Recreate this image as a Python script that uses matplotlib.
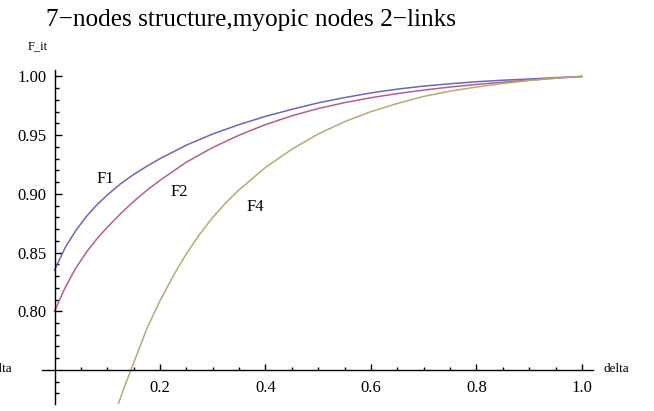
import matplotlib
matplotlib.use("Agg")
import matplotlib.pyplot as plt

# ---- data ----
delta_12 = [0.0, 0.02, 0.04, 0.06, 0.08, 0.1, 0.125, 0.15, 0.175, 0.2, 0.25, 0.3, 0.35,
            0.4, 0.45, 0.5, 0.55, 0.6, 0.65, 0.7, 0.75, 0.8, 0.85, 0.9, 0.95, 1.0]
F1 = [0.835, 0.854, 0.8685, 0.8805, 0.8905, 0.899, 0.9085, 0.9165, 0.9235, 0.930, 0.9415,
      0.951, 0.959, 0.966, 0.972, 0.9775, 0.982, 0.986, 0.9892, 0.9918, 0.9938, 0.9955,
      0.9968, 0.9978, 0.9990, 1.0]
F2 = [0.800, 0.820, 0.8365, 0.850, 0.8615, 0.8715, 0.883, 0.8935, 0.903, 0.9115, 0.927,
      0.9395, 0.950, 0.959, 0.9665, 0.9727, 0.9777, 0.9819, 0.9854, 0.9884, 0.991, 0.9932,
      0.9951, 0.9969, 0.9985, 1.0]
delta_4 = [0.12, 0.135, 0.15, 0.175, 0.2, 0.225, 0.25, 0.275, 0.3, 0.325, 0.35, 0.4, 0.45,
           0.5, 0.55, 0.6, 0.65, 0.7, 0.75, 0.8, 0.85, 0.9, 0.95, 1.0]
F4 = [0.720, 0.7385, 0.756, 0.785, 0.809, 0.830, 0.849, 0.8655, 0.880, 0.8925, 0.9035,
      0.9225, 0.938, 0.951, 0.9615, 0.970, 0.977, 0.983, 0.9875, 0.991, 0.994, 0.9965,
      0.9985, 1.0]

x_major = [0.2, 0.4, 0.6, 0.8, 1.0]
x_labels = ["0.2", "0.4", "0.6", "0.8", "1.0"]
y_major = [0.80, 0.85, 0.90, 0.95, 1.00]
y_labels = ["0.80", "0.85", "0.90", "0.95", "1.00"]
curve_labels = ["F1", "F2", "F4"]
title = "7\u2212nodes structure,myopic nodes 2\u2212links"

plt.rcParams['font.family'] = ['Liberation Serif', 'DejaVu Serif']

W, H = 654, 411
fig = plt.figure(figsize=(W / 100, H / 100), dpi=100)
ax = fig.add_axes([42 / W, (H - 404) / H, (593 - 42) / W, (404 - 70) / H])

xmin, xmax = -0.0237, 1.0209
ymin, ymax = 0.721, 1.0055
ax.set_xlim(xmin, xmax)
ax.set_ylim(ymin, ymax)

c1 = "#6868bc"
c2 = "#b85e8e"
c4 = "#b6ac72"
ax.plot(delta_12, F1, color=c1, lw=1.1)
ax.plot(delta_12, F2, color=c2, lw=1.1)
ax.plot(delta_4, F4, color=c4, lw=1.1)

for s in ["top", "right"]:
    ax.spines[s].set_visible(False)
ax.spines["left"].set_position(("data", 0.0))
ax.spines["bottom"].set_position(("data", 0.75))
ax.spines["left"].set_linewidth(1.0)
ax.spines["bottom"].set_linewidth(1.0)

ax.set_xticks(x_major)
ax.set_xticklabels(x_labels)
ax.set_xticks([0.05, 0.1, 0.15, 0.25, 0.3, 0.35, 0.45, 0.5, 0.55,
               0.65, 0.7, 0.75, 0.85, 0.9, 0.95], minor=True)
ax.set_yticks(y_major)
ax.set_yticklabels(y_labels)
ym = [round(0.73 + 0.01 * i, 2) for i in range(28)]
ym = [v for v in ym if round(v * 100) % 5 != 0]
ax.set_yticks(ym, minor=True)

ax.tick_params(axis="x", which="major", direction="in", length=4.5, width=1.0,
               labelsize=12, pad=7)
ax.tick_params(axis="x", which="minor", direction="in", length=2.5, width=1.0)
ax.tick_params(axis="y", which="major", direction="in", length=5, width=1.0,
               labelsize=12, pad=6)
ax.tick_params(axis="y", which="minor", direction="in", length=3, width=1.0)
ax.patch.set_alpha(0)

fig.text(251 / W, 1 - 20 / H, title, ha="center", va="center", fontsize=18.2)
fig.text(28 / W, 1 - 46 / H, "F_it", ha="left", va="center", fontsize=9)
fig.text(604 / W, 1 - 369 / H, "delta", ha="left", va="center", fontsize=9.5)
fig.text(12 / W, 1 - 369 / H, "delta", ha="right", va="center", fontsize=9.5)

ax.text(0.096, 0.9125, curve_labels[0], fontsize=12, ha="center", va="center")
ax.text(0.236, 0.9015, curve_labels[1], fontsize=12, ha="center", va="center")
ax.text(0.380, 0.8885, curve_labels[2], fontsize=12, ha="center", va="center")

fig.savefig("out.png", dpi=100)
